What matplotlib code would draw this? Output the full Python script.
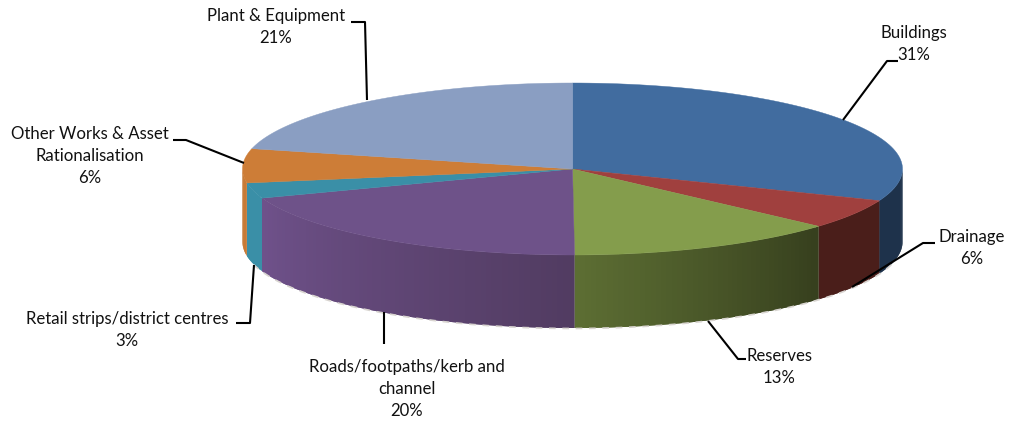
import numpy as np
import matplotlib
matplotlib.use("Agg")
import matplotlib.pyplot as plt

names = ["Buildings", "Drainage", "Reserves", "Roads/footpaths/kerb and\nchannel",
         "Retail strips/district centres", "Other Works & Asset\nRationalisation", "Plant & Equipment"]
values = [31.0, 5.6, 13.3, 19.6, 2.9, 6.4, 21.2]
percent_labels = ["31%", "6%", "13%", "20%", "3%", "6%", "21%"]
top_colors = ["#416C9F", "#A0403E", "#849D4C", "#6E5289", "#3A8FA7", "#CD7D37", "#8A9EC2"]
side_left = ["#1E324B", "#4A1E1A", "#5E7034", "#70528C", "#3A8FA7", "#C87A35", "#8A9EC2"]
side_right = ["#1E324B", "#4A1E1A", "#37401E", "#523C62", "#3A8FA7", "#C87A35", "#8A9EC2"]
label_xy = [(914, 44), (972, 248), (779, 367), (407, 389), (127, 330), (90, 156), (276, 27)]
leaders = [[(843, 120), (887, 61), (898, 61)],
           [(852, 287), (923, 243), (935, 243)],
           [(708, 321), (738, 359), (746, 359)],
           [(384, 312), (384, 344)],
           [(254, 265), (250, 323), (236, 323)],
           [(244, 163), (186, 140), (173, 140)],
           [(367, 100), (365, 22), (351, 22)]]

CX, CY, A, B, DEPTH = 572.5, 169.0, 330.0, 86.0, 73.0

plt.rcParams["font.family"] = ["Lato", "DejaVu Sans"]
fig = plt.figure(figsize=(10.09, 4.25), dpi=100)
ax = fig.add_axes([0, 0, 1, 1])
ax.set_xlim(0, 1009)
ax.set_ylim(425, 0)
ax.axis("off")

def pt(t):
    return CX + A * np.sin(t), CY - B * np.cos(t)

def to_rgb(c):
    return np.array(matplotlib.colors.to_rgb(c))

edges = np.deg2rad(np.cumsum([0] + values) * 3.6)
for i in range(len(values)):
    t0, t1 = edges[i], edges[i + 1]
    lo, hi = max(t0, np.pi / 2), min(t1, 3 * np.pi / 2)
    if hi > lo:
        n = max(2, int((hi - lo) * 60))
        ts = np.linspace(lo, hi, n + 1)
        # each band overlaps the next so no seam shows; later bands draw lower
        for j in range(n):
            ta = ts[j]
            tb = ts[min(j + 2, n)]
            tm = np.linspace(ta, tb, 6)
            x, y = pt(tm)
            f = (ts[j] - lo) / (hi - lo)
            col = to_rgb(side_right[i]) * (1 - f) + to_rgb(side_left[i]) * f
            ax.fill(np.r_[x, x[::-1]], np.r_[y, y[::-1] + DEPTH],
                    color=col, lw=0, zorder=2 + i * 0.1 - 0.0001 * j)
    ts = np.linspace(t0, t1, 80)
    xs, ys = pt(ts)
    ax.fill(np.r_[CX, xs], np.r_[CY, ys], color=top_colors[i], lw=0.3, zorder=5)

# pale stepped fringe along the lower rim
rim = np.linspace(np.deg2rad(105), np.deg2rad(255), 300)
rx, ry = pt(rim)
ax.plot(rx, ry + DEPTH + 0.5, color="#D8D4D0", lw=1.2, ls=(0, (4, 4)), zorder=4)

for seg in leaders:
    xy = np.array(seg)
    ax.plot(xy[:, 0], xy[:, 1], color="black", lw=1.5, zorder=8, solid_capstyle="butt")

for name, p, (x, y) in zip(names, percent_labels, label_xy):
    ax.text(x, y, f"{name}\n{p}", ha="center", va="center", fontsize=12.1,
            linespacing=1.47, color="#111111", zorder=9)

fig.savefig("out.png", dpi=100)
